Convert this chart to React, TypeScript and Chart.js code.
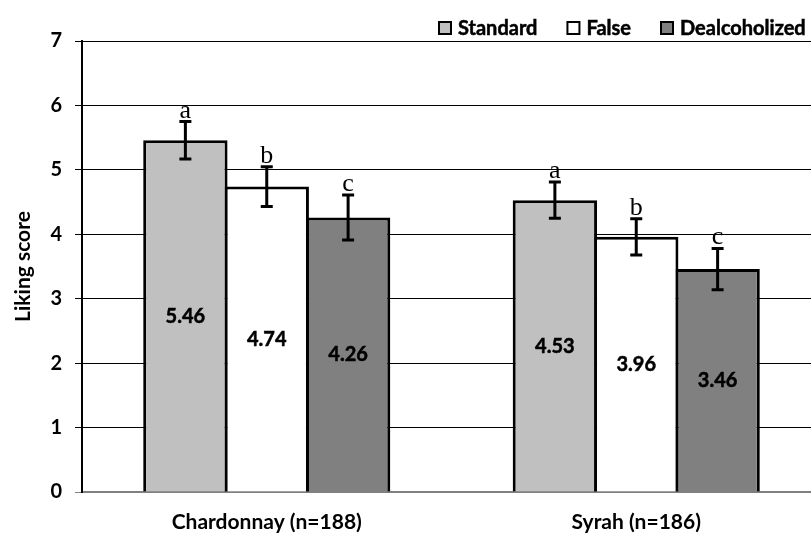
import React, { useEffect, useRef } from "react";
import { Chart, registerables } from "chart.js";

Chart.register(...registerables);

const categories = ["Chardonnay (n=188)", "Syrah (n=186)"];
const seriesNames = ["Standard", "False", "Dealcoholized"];
const standardScores = [5.46, 4.53];
const falseScores = [4.74, 3.96];
const dealcoholizedScores = [4.26, 3.46];
const standardErrors = [0.29, 0.28];
const falseErrors = [0.31, 0.28];
const dealcoholizedErrors = [0.35, 0.32];
const standardLetters = ["a", "a"];
const falseLetters = ["b", "b"];
const dealcoholizedLetters = ["c", "c"];
const yTicks = [0, 1, 2, 3, 4, 5, 6, 7];

const colors = ["#c0c0c0", "#ffffff", "#808080"];
const SANS = "Lato, 'Noto Sans', sans-serif";

const errorsBySeries = [standardErrors, falseErrors, dealcoholizedErrors];
const lettersBySeries = [standardLetters, falseLetters, dealcoholizedLetters];

const annotationsPlugin = {
  id: "annotations",
  afterDatasetsDraw(chart: any) {
    const { ctx } = chart;
    const y = chart.scales.y;
    chart.data.datasets.forEach((ds: any, di: number) => {
      const meta = chart.getDatasetMeta(di);
      meta.data.forEach((bar: any, i: number) => {
        const v = ds.data[i];
        const e = errorsBySeries[di][i];
        const x = bar.x;
        const yTop = y.getPixelForValue(v + e);
        const yBot = y.getPixelForValue(v - e);
        ctx.save();
        ctx.strokeStyle = "#000";
        ctx.lineWidth = 3;
        ctx.beginPath();
        ctx.moveTo(x, yTop);
        ctx.lineTo(x, yBot);
        ctx.moveTo(x - 6, yTop);
        ctx.lineTo(x + 6, yTop);
        ctx.moveTo(x - 6, yBot);
        ctx.lineTo(x + 6, yBot);
        ctx.stroke();
        // significance letter
        ctx.fillStyle = "#000";
        ctx.font = "26px 'Liberation Serif', 'DejaVu Serif', serif";
        ctx.textAlign = "center";
        ctx.textBaseline = "alphabetic";
        ctx.fillText(lettersBySeries[di][i], x, yTop - 4);
        // value label at mid-height of bar
        ctx.font = `bold 20px ${SANS}`;
        ctx.textBaseline = "middle";
        ctx.lineWidth = 0.5;
        ctx.strokeStyle = "#000";
        const label = v.toFixed(2);
        const ly = y.getPixelForValue(v / 2);
        ctx.fillText(label, x, ly);
        ctx.strokeText(label, x, ly);
        ctx.restore();
      });
    });
  },
};

const legendPlugin = {
  id: "customLegend",
  afterDraw(chart: any) {
    const { ctx, chartArea } = chart;
    ctx.save();
    ctx.font = `bold 20px ${SANS}`;
    ctx.textBaseline = "middle";
    ctx.textAlign = "left";
    let x = chartArea.left + 356;
    const boxTop = chartArea.top - 20;
    const box = 14;
    chart.data.datasets.forEach((ds: any) => {
      ctx.fillStyle = ds.backgroundColor;
      ctx.fillRect(x, boxTop, box, box);
      ctx.strokeStyle = "#000";
      ctx.lineWidth = 2;
      ctx.strokeRect(x + 1, boxTop + 1, box - 2, box - 2);
      ctx.fillStyle = "#000";
      const tx = x + box + 6;
      const ty = boxTop + box / 2 + 0.5;
      ctx.fillText(ds.label, tx, ty);
      ctx.lineWidth = 0.5;
      ctx.strokeText(ds.label, tx, ty);
      x = tx + ctx.measureText(ds.label).width + 29;
    });
    ctx.restore();
  },
};

export default function App() {
  const ref = useRef<HTMLCanvasElement | null>(null);
  useEffect(() => {
    if (!ref.current) return;
    const seriesData = [standardScores, falseScores, dealcoholizedScores];
    const chart = new Chart(ref.current, {
      type: "bar",
      data: {
        labels: categories,
        datasets: seriesNames.map((name, i) => ({
          label: name,
          data: seriesData[i],
          backgroundColor: colors[i],
          borderColor: "#000",
          borderWidth: 3,
          borderSkipped: "start",
          barPercentage: 1.037,
          categoryPercentage: 0.6606,
        })),
      },
      options: {
        responsive: false,
        animation: false,
        devicePixelRatio: 1,
        layout: { padding: { left: 0, right: 5, top: 41, bottom: 0 } },
        plugins: {
          legend: { display: false },
          tooltip: { enabled: false },
        },
        scales: {
          x: {
            grid: { display: false },
            border: { display: true, color: "#808080", width: 2 },
            ticks: {
              color: "#000",
              font: { family: SANS, size: 21, weight: "bold" },
              padding: 10,
              maxRotation: 0,
            },
            afterFit: (s: any) => {
              s.height = 41;
            },
          },
          y: {
            min: 0,
            max: 7,
            afterBuildTicks: (s: any) => {
              s.ticks = yTicks.map((v) => ({ value: v }));
            },
            grid: {
              color: (c: any) => (c.tick && c.tick.value === 0 ? "#808080" : "#000"),
              lineWidth: 1,
              drawTicks: true,
              tickLength: 7,
            },
            border: { display: true, color: "#000", width: 2 },
            ticks: {
              color: "#000",
              font: { family: SANS, size: 20, weight: "bold" },
              padding: 13,
            },
            title: {
              display: true,
              text: "Liking score",
              color: "#000",
              font: { family: SANS, size: 21, weight: "bold" },
              padding: { top: 11, bottom: 0 },
            },
            afterFit: (s: any) => {
              s.width = 82;
            },
          },
        },
      },
      plugins: [annotationsPlugin, legendPlugin],
    });
    return () => chart.destroy();
  }, []);

  return (
    <div
      style={{
        position: "fixed",
        left: 0,
        top: 0,
        width: 811,
        height: 533,
        overflow: "hidden",
        background: "#fff",
      }}
    >
      <canvas ref={ref} width={826} height={533} style={{ width: 826, height: 533, display: "block" }} />
    </div>
  );
}
